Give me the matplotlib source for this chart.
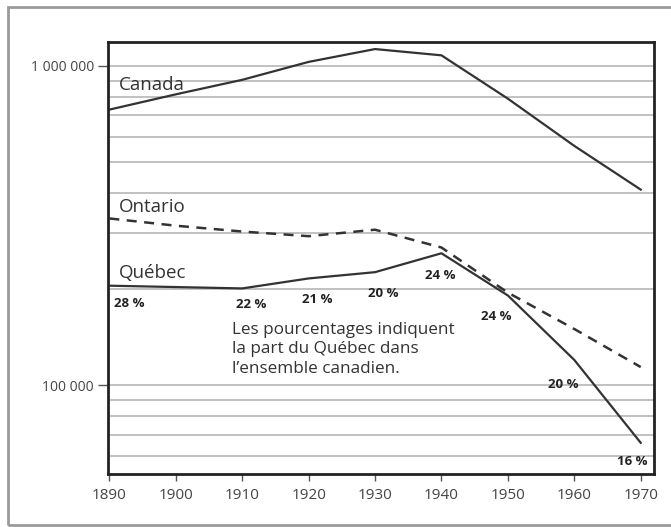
import matplotlib.pyplot as plt
from matplotlib.patches import Rectangle
from matplotlib.ticker import FixedLocator, NullFormatter

plt.rcParams['font.family'] = ['Open Sans', 'DejaVu Sans']

years = [1890, 1900, 1910, 1920, 1930, 1940, 1950, 1960, 1970]
canada = [730000, 815000, 905000, 1030000, 1130000, 1080000, 790000, 562000, 410000]
ontario = [333000, 316000, 303000, 293000, 307000, 270000, 195000, 150000, 114000]
quebec = [205000, 203000, 201000, 216000, 226000, 259000, 191000, 120000, 66000]
pct_labels = ["28 %", "22 %", "21 %", "20 %", "24 %", "24 %", "20 %", "16 %"]
pct_years = [1890, 1910, 1920, 1930, 1940, 1950, 1960, 1970]

fig = plt.figure(figsize=(6.71, 5.27), dpi=100)
# outer frame of the scanned figure
fig.patches.append(Rectangle((8/671, 2/527), 1.2, 518/527, transform=fig.transFigure,
                             fill=False, edgecolor="#9a9a9a", linewidth=2))
ax = fig.add_axes([108/671, 53/527, 546/671, 432/527])

ax.plot(years, canada, color="#333333", lw=1.6)
ax.plot(years, ontario, color="#333333", lw=1.8, ls=(0, (4, 3)))
ax.plot(years, quebec, color="#333333", lw=1.6)

ax.set_yscale("log")
ax.set_xlim(1889.8, 1972)
ax.set_ylim(52700, 1189000)

grid = [60000, 70000, 80000, 90000, 100000, 200000, 300000, 400000,
        500000, 600000, 700000, 800000, 900000, 1000000]
for g in grid:
    ax.axhline(g, color="#b0b0b0", lw=1.1, zorder=0)

ax.yaxis.set_major_locator(FixedLocator([100000, 1000000]))
ax.yaxis.set_minor_locator(FixedLocator([]))
ax.yaxis.set_minor_formatter(NullFormatter())
ax.set_yticklabels(["100 000", "1 000 000"])
ax.set_xticks(range(1890, 1971, 10))
ax.tick_params(axis="y", length=7, width=1, color="#555555", labelsize=10,
               labelcolor="#444444", pad=3)
ax.tick_params(axis="x", length=5, width=1, color="#555555", labelsize=11,
               labelcolor="#444444", pad=5)
for s in ax.spines.values():
    s.set_linewidth(2)
    s.set_color("#222222")

# series names
ax.text(1891.5, 873000, "Canada", fontsize=13.5, color="#333333", va="center")
ax.text(1891.5, 362000, "Ontario", fontsize=13.5, color="#333333", va="center")
ax.text(1891.5, 224000, "Québec", fontsize=13.5, color="#333333", va="center")

# Quebec share labels
offsets = {1890: (3.0, 0.88), 1910: (1.4, 0.89), 1920: (1.3, 0.86), 1930: (1.2, 0.86),
           1940: (-0.2, 0.85), 1950: (-1.8, 0.86), 1960: (-1.7, 0.84), 1970: (-1.2, 0.875)}
for yr, lab in zip(pct_years, pct_labels):
    dx, f = offsets[yr]
    v = quebec[years.index(yr)]
    ax.text(yr + dx, v * f, lab, fontsize=9.5, fontweight="bold", color="#222222",
            ha="center", va="center")

ax.text(1908.5, 158000, "Les pourcentages indiquent\nla part du Québec dans\nl\u2019ensemble canadien.",
        fontsize=12.3, color="#333333", va="top", ha="left", linespacing=1.28)

fig.savefig("out.png", dpi=100)
